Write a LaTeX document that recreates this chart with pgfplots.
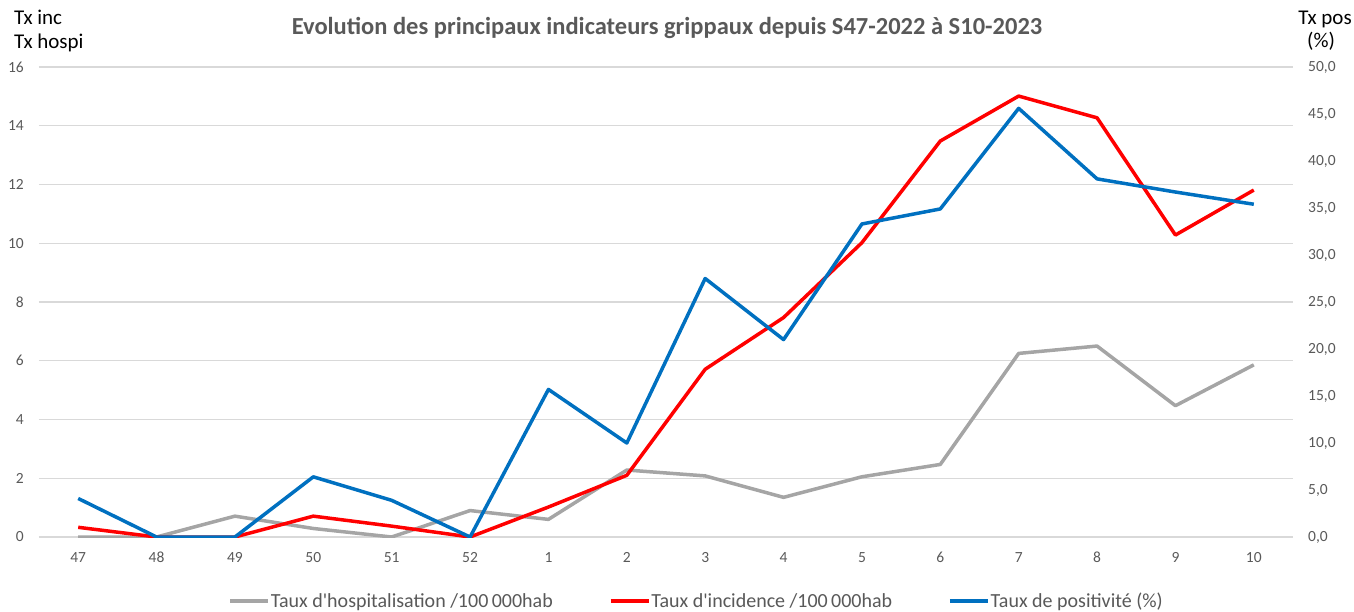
\documentclass[border=0pt]{standalone}
\usepackage{pgfplots}
\pgfplotsset{compat=1.18}
\usepackage{fontspec}
\setmainfont{Carlito}[Ligatures=TeXOff]
\definecolor{cgray}{HTML}{A5A5A5}
\definecolor{cred}{HTML}{FF0000}
\definecolor{cblue}{HTML}{0070C0}
\definecolor{gridc}{HTML}{D9D9D9}
\definecolor{txt}{HTML}{595959}
\pgfplotstableread{
x hosp inc pos
0 0 0.33 4.1
1 0 0 0
2 0.71 0 0
3 0.29 0.71 6.4
4 0 0.37 3.9
5 0.9 0 0
6 0.6 1.02 15.7
7 2.28 2.1 10.0
8 2.08 5.71 27.5
9 1.35 7.47 21.0
10 2.05 10.02 33.3
11 2.47 13.48 34.9
12 6.25 15.01 45.6
13 6.5 14.27 38.1
14 4.47 10.28 36.7
15 5.86 11.81 35.4
}\data
\begin{document}
\begin{tikzpicture}
\path[use as bounding box] (-39pt,-74pt) rectangle (1315pt,537pt);
\pgfplotsset{
  common/.style={
    scale only axis, width=1254pt, height=470pt,
    xmin=-0.5, xmax=15.5,
    major tick length=0pt,
    axis line style={draw=none},
    tick label style={font=\fontsize{15.5}{18}\selectfont, text=txt},
    /pgf/number format/assume math mode=true,
  }
}
\begin{axis}[common,
  ymin=0, ymax=16, ytick={0,2,...,16},
  ymajorgrids, xmajorgrids=false, grid style={draw=gridc, line width=1.2pt},
  xtick={0,...,15},
  xticklabels={47,48,49,50,51,52,1,2,3,4,5,6,7,8,9,10},
  xticklabel style={anchor=north, inner sep=0pt, yshift=-15pt},
  yticklabel style={anchor=east, inner sep=0pt, xshift=-15pt},
  legend columns=3,
  legend style={at={(axis description cs:0.524,-0.136)}, anchor=center, draw=none,
    font=\fontsize{20}{22}\selectfont, text=txt, inner sep=0pt,
    nodes={inner sep=1pt},
    /tikz/every even column/.append style={column sep=55pt}},
  legend image code/.code={\draw[#1] (0pt,0pt) -- (38pt,0pt);},
]
\addplot[cgray, line width=3.5pt, line join=round] table[x=x, y=hosp] {\data};
\addlegendentry{Taux d'hospitalisation /100\,000hab}
\addplot[cred, line width=3.5pt, line join=round] table[x=x, y=inc] {\data};
\addlegendentry{Taux d'incidence /100\,000hab}
\addlegendimage{cblue, line width=3.5pt}
\addlegendentry{Taux de positivité (\%)}
\end{axis}
\begin{axis}[common,
  ymin=0, ymax=50, ytick={0,5,...,50},
  hide x axis,
  axis y line*=right,
  yticklabel pos=right,
  yticklabel style={anchor=west, inner sep=0pt, xshift=15pt,
    /pgf/number format/.cd, fixed, fixed zerofill, precision=1, use comma},
]
\addplot[cblue, line width=3.5pt, line join=round] table[x=x, y=pos] {\data};
\end{axis}
\node[anchor=base, inner sep=0pt, text=txt, font=\fontsize{24.5}{27}\selectfont\bfseries] at (628pt,502pt) {Evolution des principaux indicateurs grippaux depuis S47-2022 à S10-2023};
\node[anchor=base west, inner sep=0pt, font=\fontsize{21}{24}\selectfont] at (-25pt,512pt) {Tx inc};
\node[anchor=base west, inner sep=0pt, font=\fontsize{21}{24}\selectfont] at (-25pt,488pt) {Tx hospi};
\node[anchor=base, inner sep=0pt, font=\fontsize{21}{24}\selectfont] at (1286pt,512pt) {Tx pos};
\node[anchor=base, inner sep=0pt, font=\fontsize{21}{24}\selectfont] at (1282pt,489pt) {(\%)};
\end{tikzpicture}
\end{document}
